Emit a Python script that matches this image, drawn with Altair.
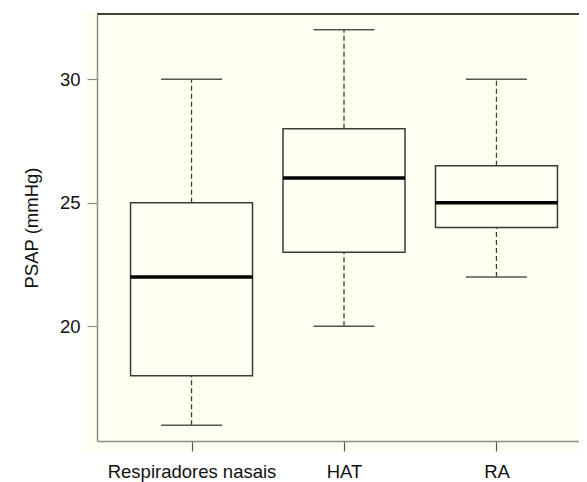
import altair as alt
import pandas as pd

groups = ["Respiradores nasais", "HAT", "RA"]
mins = [16, 20, 22]
q1 = [18, 23, 24]
medians = [22, 26, 25]
q3 = [25, 28, 26.5]
maxs = [30, 32, 30]
y_ticks = [20, 25, 30]

df = pd.DataFrame({
    "group": groups,
    "pos": [i + 1 for i in range(len(groups))],
    "lo": mins, "q1": q1, "med": medians, "q3": q3, "hi": maxs,
})

W, H = 482, 427
CREAM = "#fefef1"
LINE = "#3a3a3a"
AXIS = "#8c8c8c"
FONT = "Liberation Sans"

label_expr = " : ".join(
    [f"datum.value == {i + 1} ? '{g}'" for i, g in enumerate(groups)]
) + " : ''"

xscale = alt.Scale(domain=[0.38, 3.62], range=[0, 494], nice=False, zero=False)
yscale = alt.Scale(domain=[15.36, 32.64], nice=False, zero=False)

xaxis = alt.Axis(values=[1, 2, 3], labelExpr=label_expr, title=None, grid=False,
                 domainColor=AXIS, domainWidth=1.5, tickColor="#555", tickWidth=1.2,
                 tickSize=10, labelFont=FONT, labelFontSize=18.5, labelColor="#111",
                 labelBaseline="alphabetic", labelPadding=26, labelAlign="center",
                 zindex=1)
yaxis = alt.Axis(values=y_ticks, title="PSAP (mmHg)", grid=False,
                 domainColor=AXIS, domainWidth=1.5, tickColor=AXIS, tickWidth=1.2,
                 tickSize=10, labelFont=FONT, labelFontSize=18.5, labelColor="#111",
                 labelPadding=7, titleFont=FONT, titleFontSize=18.5, titleColor="#111",
                 titleFontWeight="normal", titleAngle=-90, titleBaseline="alphabetic",
                 titleX=-60, titleY=H / 2, titleAlign="center", zindex=1)

base = alt.Chart(df).transform_calculate(
    left="datum.pos - 0.4", right="datum.pos + 0.4",
    cl="datum.pos - 0.2", cr="datum.pos + 0.2",
)

one = alt.Data(values=[{"k": 1}])
bg = alt.Chart(one).mark_rect(color=CREAM).encode(
    x=alt.value(-12), x2=alt.value(W + 20), y=alt.value(-1), y2=alt.value(H + 11)
)

whisk_hi = base.mark_rule(color=LINE, strokeWidth=1.3, strokeDash=[5, 3]).encode(
    x=alt.X("pos:Q", scale=xscale, axis=xaxis),
    y=alt.Y("q3:Q", scale=yscale, axis=yaxis),
    y2="hi:Q",
)
whisk_lo = base.mark_rule(color=LINE, strokeWidth=1.3, strokeDash=[5, 3]).encode(
    x=alt.X("pos:Q", scale=xscale), y=alt.Y("lo:Q", scale=yscale), y2="q1:Q"
)
cap_hi = base.mark_rule(color="#555", strokeWidth=1.5).encode(
    x=alt.X("cl:Q", scale=xscale), x2="cr:Q", y=alt.Y("hi:Q", scale=yscale)
)
cap_lo = base.mark_rule(color="#555", strokeWidth=1.5).encode(
    x=alt.X("cl:Q", scale=xscale), x2="cr:Q", y=alt.Y("lo:Q", scale=yscale)
)
box = base.mark_rect(fill=CREAM, stroke=LINE, strokeWidth=1.5).encode(
    x=alt.X("left:Q", scale=xscale), x2="right:Q",
    y=alt.Y("q1:Q", scale=yscale), y2="q3:Q",
)
med = base.mark_rule(color="black", strokeWidth=3.5).encode(
    x=alt.X("left:Q", scale=xscale), x2="right:Q", y=alt.Y("med:Q", scale=yscale)
)
top = alt.Chart(one).mark_rule(color="black", strokeWidth=1.5).encode(
    x=alt.value(0), x2=alt.value(W + 20), y=alt.value(0)
)

chart = alt.layer(bg, whisk_hi, whisk_lo, cap_hi, cap_lo, box, med, top).properties(
    width=W, height=H,
    autosize=alt.AutoSizeParams(type="none"),
    padding={"left": 89, "top": 6, "right": 0, "bottom": 41},
    background="white",
).configure_view(stroke=None)

chart.save("out.html", embed_options={"renderer": "svg", "actions": False})
